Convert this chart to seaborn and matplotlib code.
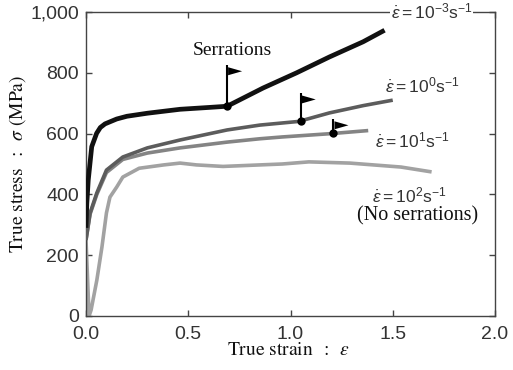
import matplotlib
matplotlib.use("Agg")
import numpy as np
import pandas as pd
import matplotlib.pyplot as plt
import seaborn as sns
from matplotlib.patches import Polygon
from matplotlib import transforms as mtransforms
from matplotlib.ticker import FuncFormatter

# ---- data ----
strain_m3 = [0.0, 0.004, 0.011, 0.028, 0.052, 0.07, 0.093, 0.15, 0.20, 0.30, 0.46, 0.60, 0.69,
             0.866, 1.03, 1.19, 1.355, 1.46]
stress_m3 = [290, 370, 447, 557, 601, 620, 632, 648, 657, 667, 680, 686, 690,
             750, 800, 852, 902, 940]

strain_0 = [0.0, 0.02, 0.053, 0.10, 0.18, 0.30, 0.46, 0.69, 0.85, 1.04, 1.19, 1.355, 1.50]
stress_0 = [250, 339, 405, 480, 523, 553, 579, 612, 628, 640, 668, 692, 710]

strain_1 = [0.0, 0.02, 0.053, 0.10, 0.18, 0.30, 0.46, 0.69, 0.85, 0.96, 1.20, 1.38]
stress_1 = [250, 335, 400, 472, 515, 536, 553, 572, 583, 589, 600, 610]

strain_2 = [0.0, 0.015, 0.025, 0.053, 0.078, 0.10, 0.117, 0.15, 0.18, 0.26, 0.38, 0.46, 0.54, 0.67,
            0.85, 0.96, 1.09, 1.29, 1.54, 1.69]
stress_2 = [250, 0, 20, 118, 227, 339, 391, 424, 457, 486, 497, 503, 497, 492,
            497, 500, 507, 503, 490, 474]

rate_labels = [r"$\dot{\varepsilon}=10^{-3}\mathrm{s}^{-1}$",
               r"$\dot{\varepsilon}=10^{0}\mathrm{s}^{-1}$",
               r"$\dot{\varepsilon}=10^{1}\mathrm{s}^{-1}$",
               r"$\dot{\varepsilon}=10^{2}\mathrm{s}^{-1}$"]

serr_strain = [0.69, 1.05, 1.21]
serr_stress = [690, 640, 601]

x_ticks = [0.0, 0.5, 1.0, 1.5, 2.0]
y_ticks = [0, 200, 400, 600, 800, 1000]

# ---- styling ----
colors = ["#111111", "#5c5c5c", "#848484", "#a2a2a2"]
widths = [3.4, 2.6, 2.6, 2.6]
pole_px = [41, 28, 14]
label_pos = [(1.49, 980), (1.462, 734), (1.413, 553), (1.398, 374)]

sns.set_style("ticks")
plt.rcParams["font.family"] = ["Liberation Sans", "DejaVu Sans"]
plt.rcParams["mathtext.fontset"] = "custom"
plt.rcParams["mathtext.rm"] = "Liberation Sans"
plt.rcParams["mathtext.it"] = "Liberation Sans:italic"

fig = plt.figure(figsize=(5.13, 3.70), dpi=100)
ax = fig.add_axes([86 / 513, 54 / 370, 409 / 513, 304 / 370])

series = [(strain_m3, stress_m3), (strain_0, stress_0), (strain_1, stress_1), (strain_2, stress_2)]
frames = []
for i, (s, t) in enumerate(series):
    frames.append(pd.DataFrame({"strain": s, "stress": t, "rate": rate_labels[i]}))
df = pd.concat(frames, ignore_index=True)

for i, lab in enumerate(rate_labels[::-1]):
    idx = len(rate_labels) - 1 - i
    sub = df[df["rate"] == lab]
    sns.lineplot(data=sub, x="strain", y="stress", sort=False, estimator=None,
                 color=colors[idx], linewidth=widths[idx], ax=ax, zorder=2 + i,
                 solid_capstyle="butt", solid_joinstyle="round")

# serration markers with flags
ax.scatter(serr_strain, serr_stress, s=36, color="black", zorder=10, linewidths=0)
for x, y, h in zip(serr_strain, serr_stress, pole_px):
    trans = fig.dpi_scale_trans + mtransforms.ScaledTranslation(x, y, ax.transData)
    ax.plot([0, 0], [0, h / 100], transform=trans, color="black", lw=1.5, zorder=10,
            solid_capstyle="butt")
    tri = Polygon([(0.01, (h - 2) / 100), (0.15, (h - 6) / 100), (0.01, (h - 10) / 100)],
                  closed=True, transform=trans, facecolor="black", edgecolor="none", zorder=10)
    ax.add_patch(tri)

ax.text(0.714, 858, "Serrations", family="Liberation Serif", fontsize=14,
        ha="center", va="baseline", color="#111111")

for k, ((lx, ly), lab) in enumerate(zip(label_pos, rate_labels)):
    box = dict(facecolor="white", edgecolor="none", pad=0.5) if k == 0 else None
    ax.text(lx, ly, lab, fontsize=12.5, ha="left", va="baseline", color="#333333",
            math_fontfamily="custom", zorder=12, bbox=box)
ax.text(1.62, 314, "(No serrations)", family="Liberation Serif", fontsize=14.5,
        ha="center", va="baseline", color="#111111")

ax.set_xlim(0, 2.0)
ax.set_ylim(0, 1000)
ax.set_xticks(x_ticks)
ax.set_yticks(y_ticks)
ax.xaxis.set_major_formatter(FuncFormatter(lambda v, p: f"{v:.1f}"))
ax.yaxis.set_major_formatter(FuncFormatter(lambda v, p: f"{int(v):,}"))
ax.tick_params(direction="in", top=True, right=True, length=4, width=1,
               color="#444444", labelsize=14, labelcolor="#333333")
ax.tick_params(axis="x", pad=7)
ax.tick_params(axis="y", pad=5)
for sp in ax.spines.values():
    sp.set_visible(True)
    sp.set_color("#444444")
    sp.set_linewidth(1.0)

ax.set_xlabel(r"True strain $\;:\;\;\varepsilon$", fontsize=14, math_fontfamily="stix",
              family="STIXGeneral", color="#111111")
ax.set_ylabel(r"True stress $\;:\;\;\sigma$ (MPa)", fontsize=14, math_fontfamily="stix",
              family="STIXGeneral", color="#111111")
ax.xaxis.set_label_coords(0.494, -0.086)
ax.yaxis.set_label_coords(-0.142, 0.5)

fig.savefig("out.png", dpi=100)
